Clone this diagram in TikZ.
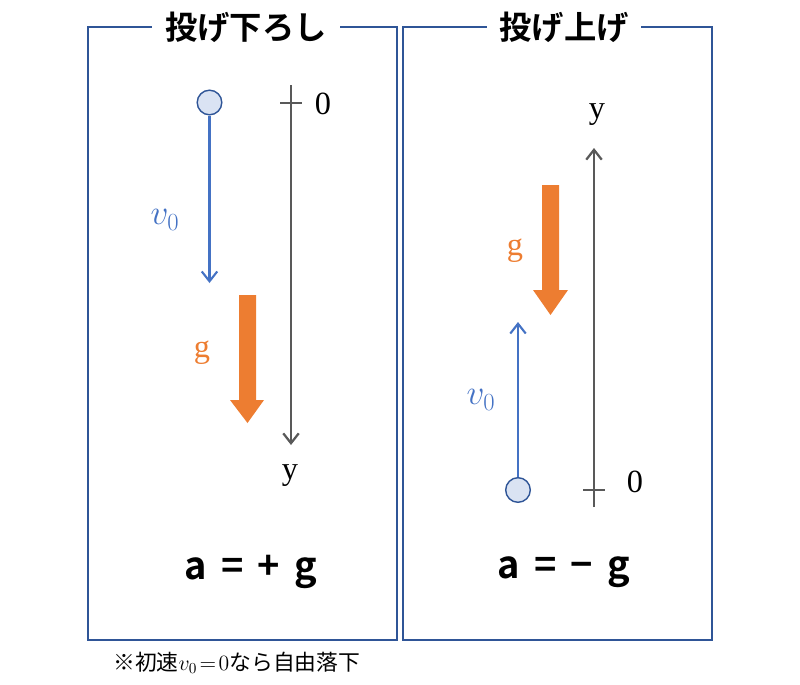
\documentclass[tikz,border=0pt]{standalone}
\usepackage{fix-cm}
\usepackage{fontspec}
\setmainfont{Liberation Serif}
\newfontfamily\cjk[BoldFont={Noto Sans CJK JP Bold}]{Noto Sans CJK JP}
\usetikzlibrary{arrows.meta}
\definecolor{frameblue}{HTML}{2F5597}
\definecolor{velblue}{HTML}{4472C4}
\definecolor{gorange}{HTML}{ED7D31}
\definecolor{axisgray}{HTML}{595959}
\definecolor{ballfill}{HTML}{DAE3F3}
\tikzset{
	panel/.style={draw=frameblue, line width=1.1pt},
	paneltitle/.style={fill=white, inner xsep=9pt, inner ysep=2pt, font=\cjk\bfseries\fontsize{23}{23}\selectfont},
	ball/.style={draw=frameblue, fill=ballfill, circle, minimum size=17.5pt, inner sep=0pt, line width=1pt},
	vel/.style={velblue, line width=1.5pt, -{Straight Barb[length=7pt, width=11pt]}},
	yaxis/.style={axisgray, line width=1.6pt, -{Straight Barb[length=7pt, width=11pt]}},
	axtick/.style={axisgray, line width=1.6pt},
	lbl/.style={inner sep=0pt, font=\fontsize{23}{23}\selectfont},
	vlbl/.style={inner sep=0pt, velblue, font=\fontsize{25}{25}\selectfont},
	eqn/.style={font=\cjk\bfseries\fontsize{27}{27}\selectfont},
}
\newcommand{\eqgap}{\hspace{10pt}}
\begin{document}
\begin{tikzpicture}[x=0.025cm, y=-0.025cm]
	\useasboundingbox (0,0) rectangle (800,684);
	% left panel
	\draw[panel] (88,27) rectangle (397,640);
	\node[paneltitle] (title1) at (246,27) {投げ下ろし};
	\node[ball] (ball1) at (209.5,102.5) {};
	\coordinate (v1tip) at (209.5,283);
	\draw[vel] (ball1) -- (v1tip);
	\node[vlbl] (v1lbl) at (165,220) {$v_0$};
	\fill[gorange] (239,295) -- (256,295) -- (256,400) -- (264,400) -- (247.5,423) -- (230,400) -- (239,400) -- cycle;
	\node[lbl, gorange] (g1) at (202,353) {g};
	\coordinate (ax1top) at (291,85);
	\coordinate (ax1bot) at (291,445);
	\draw[yaxis] (ax1top) -- (ax1bot);
	\coordinate (tk1a) at (280,103);
	\coordinate (tk1b) at (302,103);
	\draw[axtick] (tk1a) -- (tk1b);
	\node[lbl] (zero1) at (323,104) {0};
	\node[lbl] (y1) at (290,476) {y};
	\node[eqn] (eq1) at (251,572) {a\eqgap=\eqgap+\eqgap g};
	% right panel
	\draw[panel] (403,27) rectangle (712,640);
	\node[paneltitle] (title2) at (564,27) {投げ上げ};
	\node[ball] (ball2) at (518,490) {};
	\coordinate (v2tip) at (518,322);
	\draw[vel] (ball2) -- (v2tip);
	\node[vlbl] (v2lbl) at (481,400) {$v_0$};
	\fill[gorange] (542,185) -- (559,185) -- (559,290) -- (568,290) -- (550.5,315) -- (533,290) -- (542,290) -- cycle;
	\node[lbl, gorange] (g2) at (515,251) {g};
	\coordinate (ax2bot) at (594,507);
	\coordinate (ax2top) at (594,148);
	\draw[yaxis] (ax2bot) -- (ax2top);
	\coordinate (tk2a) at (583,490);
	\coordinate (tk2b) at (605,490);
	\draw[axtick] (tk2a) -- (tk2b);
	\node[lbl] (zero2) at (635,482) {0};
	\node[lbl] (y2) at (597,115) {y};
	\node[eqn] (eq2) at (564,572) {a\eqgap=\eqgap−\eqgap g};
	% note
	\node[anchor=west, inner sep=0pt, font=\cjk\fontsize{15.5}{15.5}\selectfont] (note) at (113,663) {※初速$v_0\!=\!0$なら自由落下};
\end{tikzpicture}
\end{document}
